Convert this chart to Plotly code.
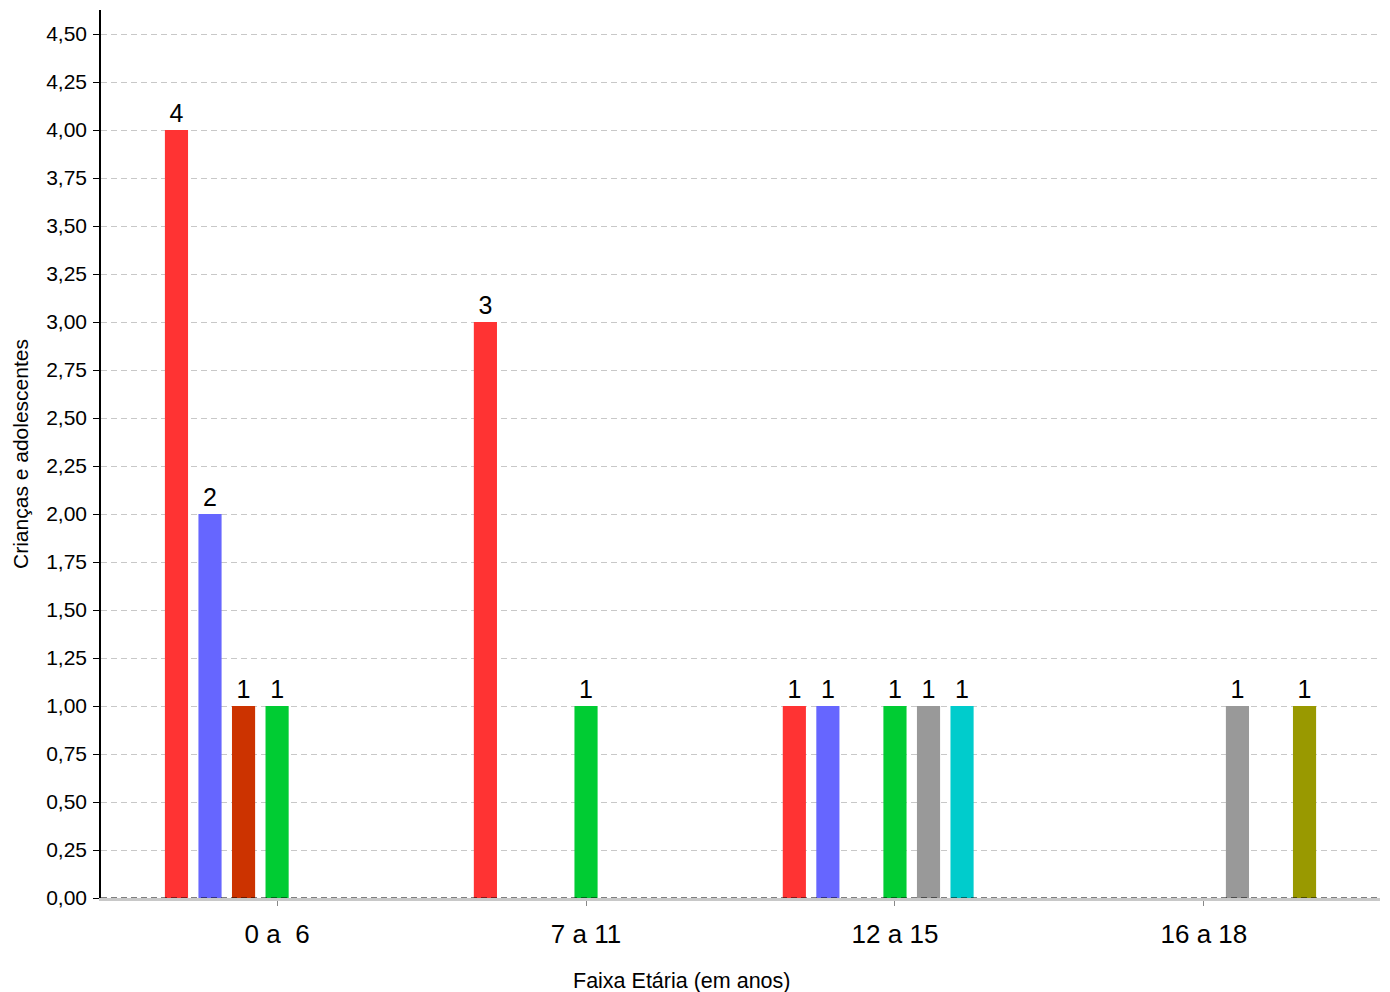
import plotly.graph_objects as go

categories = ["0 a\u00a0 6", "7 a 11", "12 a 15", "16 a 18"]
series_names = ["Série 1", "Série 2", "Série 3", "Série 4", "Série 5", "Série 6", "Série 7"]
s1 = [4, 3, 1, 0]
s2 = [2, 0, 1, 0]
s3 = [1, 0, 0, 0]
s4 = [1, 1, 1, 0]
s5 = [0, 0, 1, 1]
s6 = [0, 0, 1, 0]
s7 = [0, 0, 0, 1]
series_values = [s1, s2, s3, s4, s5, s6, s7]
colors = ["#ff3333", "#6666ff", "#cc3300", "#00cc33", "#999999", "#00cccc", "#999900"]
y_ticks = [i * 0.25 for i in range(19)]

FONT = "Liberation Sans, Arial, sans-serif"

fig = go.Figure()
for name, vals, col in zip(series_names, series_values, colors):
    fig.add_trace(go.Bar(
        x=categories,
        y=[v if v else None for v in vals],
        name=name,
        marker=dict(color=col, line=dict(width=0)),
        text=[str(v) if v else "" for v in vals],
        textposition="outside",
        textfont=dict(family=FONT, size=25, color="black"),
        cliponaxis=False,
        showlegend=False,
    ))

# page body has an 8px margin, so the figure is offset by 8px
fig.update_layout(
    width=1382, height=984,
    margin=dict(l=93, r=10, t=2, b=94),
    paper_bgcolor="white", plot_bgcolor="white",
    separators=",.",
    barmode="group",
    bargap=0.24,
    bargroupgap=0.31,
    font=dict(family=FONT, color="black"),
    xaxis=dict(
        range=[-0.57, 3.57],
        automargin=False,
        showgrid=False,
        showline=True, linecolor="#c8c8c8", linewidth=3,
        ticks="outside", ticklen=5, tickcolor="#888888", tickwidth=1,
        tickfont=dict(size=26, color="black"),
        ticklabelstandoff=6,
    ),
    yaxis=dict(
        range=[0, 4.625],
        automargin=False,
        tickvals=y_ticks,
        tickformat=".2f",
        showgrid=True, gridcolor="#c8c8c8", gridwidth=1, griddash="6px,4px",
        zeroline=False,
        showline=True, linecolor="black", linewidth=1.5,
        ticks="outside", ticklen=6, tickcolor="black", tickwidth=1,
        tickfont=dict(size=21, color="black"),
        ticklabelstandoff=2,
        title=dict(text="Crianças e adolescentes", font=dict(size=21, color="black"), standoff=12),
    ),
    annotations=[dict(text="Faixa Etária (em anos)", xref="paper", yref="paper",
                      x=0.4535, y=-0.0935, xanchor="center", yanchor="middle",
                      showarrow=False, font=dict(size=21.5, color="black"))],
    shapes=[dict(type="line", xref="paper", yref="y", x0=0, x1=1, y0=0, y1=0,
                 line=dict(color="black", width=1.2, dash="6px,4px"), layer="above")],
)

fig.write_html("out.html")
